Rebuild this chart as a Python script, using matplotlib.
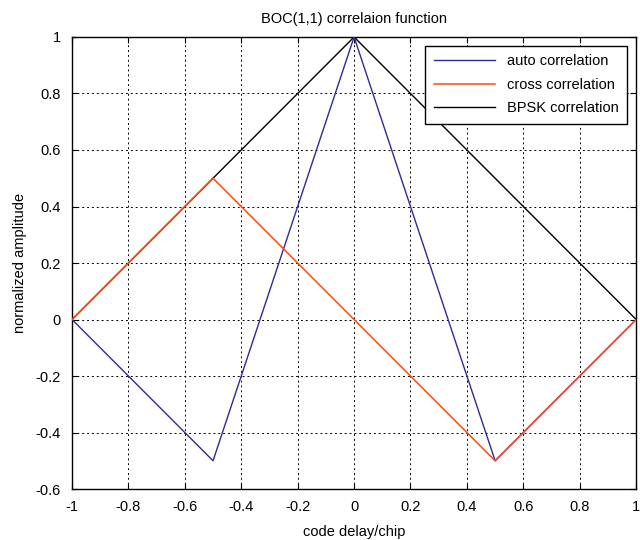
import matplotlib.pyplot as plt
import numpy as np

# puntos de las funciones de correlacion
auto_x = [-1, -0.5, 0, 0.5, 1]
auto_y = [0, -0.5, 1, -0.5, 0]
cross_x = [-1, -0.5, 0.5, 1]
cross_y = [0, 0.5, -0.5, 0]
bpsk_x = [-1, 0, 1]
bpsk_y = [0, 1, 0]

xticks = [-1, -0.8, -0.6, -0.4, -0.2, 0, 0.2, 0.4, 0.6, 0.8, 1]
yticks = [-0.6, -0.4, -0.2, 0, 0.2, 0.4, 0.6, 0.8, 1]

plt.rcParams['font.family'] = ['Liberation Sans', 'DejaVu Sans']
fig = plt.figure(figsize=(6.4, 5.4), dpi=100)
ax = fig.add_axes([0.1125, 0.0944, 0.8815, 0.8371])

ax.plot(auto_x, auto_y, color='#2e2a9c', lw=1, label='auto correlation', zorder=3)
ax.plot(cross_x, cross_y, color='#ff4a10', lw=1.1, label='cross correlation', zorder=4)
ax.plot(bpsk_x, bpsk_y, color='black', lw=1, label='BPSK correlation', zorder=2)

ax.set_xlim(-1, 1)
ax.set_ylim(-0.6, 1)
ax.set_xticks(xticks)
ax.set_yticks(yticks)
ax.set_xticklabels([f'{t:g}' for t in xticks])
ax.set_yticklabels([f'{t:g}' for t in yticks])
ax.tick_params(direction='in', labelsize=10.5, length=4, top=True, right=True, pad=8)
ax.grid(True, color='black', linestyle=(0, (2, 3)), lw=0.7)
for s in ax.spines.values():
    s.set_linewidth(1)

ax.set_xlabel('code delay/chip', fontsize=10.5, labelpad=8)
ax.set_ylabel('normalized amplitude', fontsize=10.5, labelpad=6)
ax.set_title('BOC(1,1) correlaion function', fontsize=10.5, pad=10)

leg = ax.legend(loc='upper right', fontsize=10.5, fancybox=False, framealpha=1,
                edgecolor='black', borderaxespad=0.6, handlelength=4.2,
                labelspacing=0.65, borderpad=0.6)
leg.get_frame().set_linewidth(1)

plt.savefig('out.png')
